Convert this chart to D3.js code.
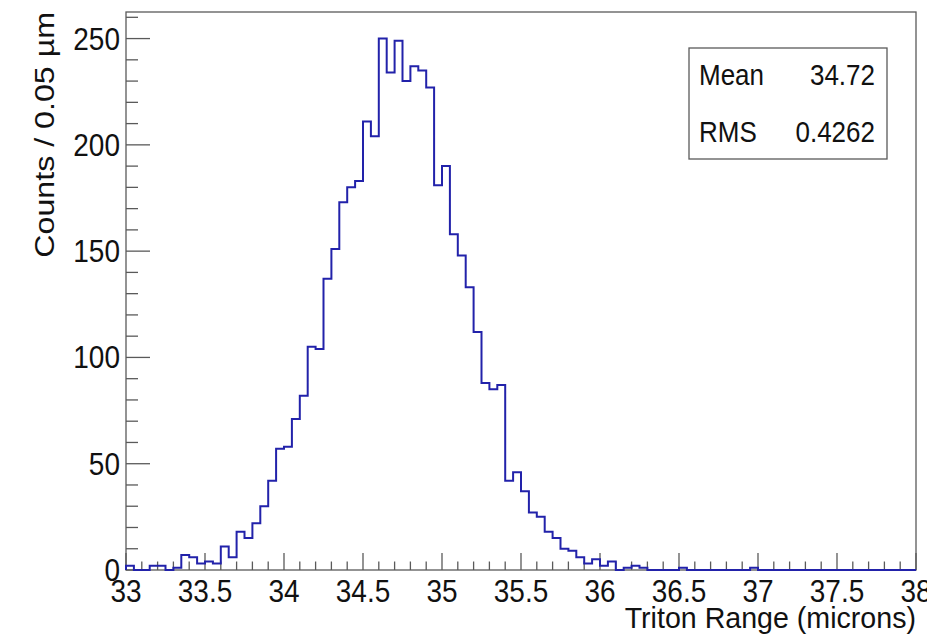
<!DOCTYPE html>
<html>
<head>
<meta charset="utf-8">
<script src="https://cdn.jsdelivr.net/npm/d3@7"></script>
<style>
  html, body { margin: 0; padding: 0; background: #fff; }
  svg { display: block; }
  text { font-family: "Liberation Sans", Arial, Helvetica, sans-serif; fill: #111; }
</style>
</head>
<body>
<svg id="chart" width="927" height="639"></svg>
<script>
// ---- data ----
const binStart = 33;
const binWidth = 0.05;
const counts = [
  2, 0, 0, 2, 2, 0, 1, 7, 6, 3,
  4, 3, 11, 6, 18, 15, 22, 30, 42, 57,
  58, 71, 82, 105, 104, 137, 151, 173, 180, 183,
  211, 204, 250, 234, 249, 230, 237, 235, 227, 181,
  190, 158, 148, 133, 112, 88, 85, 87, 42, 46,
  37, 27, 25, 18, 15, 10, 9, 6, 3, 5,
  2, 4, 0, 1, 2, 1, 0, 0, 0, 0,
  1, 0, 0, 0, 0, 0, 0, 0, 0, 1,
  0, 0, 0, 0, 0, 0, 0, 0, 0, 0,
  0, 0, 0, 0, 0, 0, 0, 0, 0, 0
];
const xMajorTicks = [33, 33.5, 34, 34.5, 35, 35.5, 36, 36.5, 37, 37.5, 38];
const xTickLabels = ["33", "33.5", "34", "34.5", "35", "35.5", "36", "36.5", "37", "37.5", "38"];
const yMajorTicks = [0, 50, 100, 150, 200, 250];
const yTickLabels = ["0", "50", "100", "150", "200", "250"];
const statNames = ["Mean", "RMS"];
const statValues = ["34.72", "0.4262"];
const xTitle = "Triton Range (microns)";
const yTitle = "Counts / 0.05 \u00b5m";

// ---- layout ----
const L = 126, R = 916, T = 12, B = 570;
const SY = 1.15; // vertical stretch of glyphs seen in the reference
const svg = d3.select("#chart");
const x = d3.scaleLinear().domain([33, 38]).range([L, R]);
const y = d3.scaleLinear().domain([0, 262.5]).range([B, T]);

const axisColor = "#5a5a5a";

// frame
svg.append("rect").attr("x", L).attr("y", T).attr("width", R - L).attr("height", B - T)
  .attr("fill", "none").attr("stroke", axisColor).attr("stroke-width", 1.3);

// x ticks
const xMinor = d3.range(0, 51).map(i => 33 + i * 0.1);
svg.append("g").selectAll("line").data(xMinor).join("line")
  .attr("x1", d => x(d)).attr("x2", d => x(d))
  .attr("y1", B).attr("y2", (d, i) => B - (i % 5 === 0 ? 17 : 8.5))
  .attr("stroke", axisColor).attr("stroke-width", 1.3);
svg.append("g").selectAll("text").data(xMajorTicks).join("text")
  .attr("transform", d => `translate(${x(d)},602) scale(1,${SY})`)
  .attr("text-anchor", "middle").attr("font-size", 28)
  .text((d, i) => xTickLabels[i]);

// y ticks
const yMinor = d3.range(0, 27).map(i => i * 10);
svg.append("g").selectAll("line").data(yMinor).join("line")
  .attr("x1", L).attr("x2", (d, i) => L + (i % 5 === 0 ? 24 : 12))
  .attr("y1", d => y(d)).attr("y2", d => y(d))
  .attr("stroke", axisColor).attr("stroke-width", 1.3);
svg.append("g").selectAll("text").data(yMajorTicks).join("text")
  .attr("transform", d => `translate(120,${y(d) + 11}) scale(1,${SY})`)
  .attr("text-anchor", "end").attr("font-size", 28)
  .text((d, i) => yTickLabels[i]);

// histogram outline
const pts = [[binStart, 0]];
counts.forEach((c, i) => {
  pts.push([binStart + i * binWidth, c]);
  pts.push([binStart + (i + 1) * binWidth, c]);
});
pts.push([binStart + counts.length * binWidth, 0]);
const line = d3.line().x(d => x(d[0])).y(d => y(d[1]));
svg.append("path").attr("d", line(pts))
  .attr("fill", "none").attr("stroke", "#2222aa").attr("stroke-width", 2)
  .attr("stroke-linejoin", "miter");

// axis titles
svg.append("text").attr("x", R).attr("y", 628)
  .attr("text-anchor", "end").attr("font-size", 28.6).text(xTitle);
svg.append("text").attr("transform", `translate(53.5,${T}) scale(1,${SY}) rotate(-90)`)
  .attr("text-anchor", "end").attr("font-size", 28).text(yTitle);

// stats box
const sb = { x: 689, y: 48, w: 198, h: 111 };
svg.append("rect").attr("x", sb.x).attr("y", sb.y).attr("width", sb.w).attr("height", sb.h)
  .attr("fill", "#fff").attr("stroke", axisColor).attr("stroke-width", 1.3);
const rowsY = [85, 142];
statNames.forEach((n, i) => {
  svg.append("text").attr("transform", `translate(${sb.x + 10},${rowsY[i]}) scale(1,1.1)`)
    .attr("font-size", 26).text(n);
  svg.append("text").attr("transform", `translate(${sb.x + sb.w - 12},${rowsY[i]}) scale(1,1.1)`)
    .attr("text-anchor", "end").attr("font-size", 26).text(statValues[i]);
});
</script>
</body>
</html>
